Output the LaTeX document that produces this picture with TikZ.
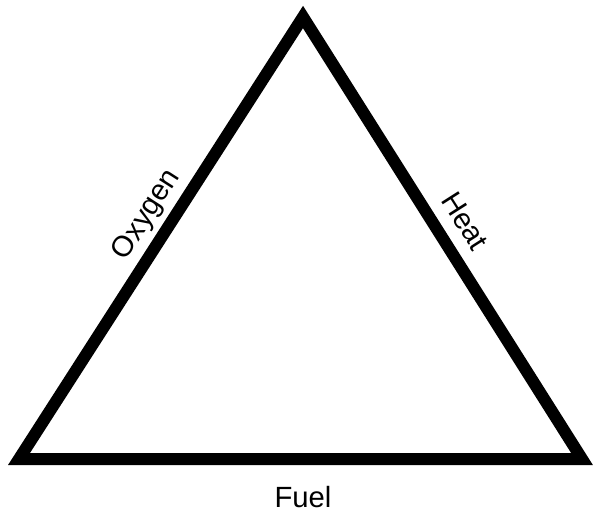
\documentclass[tikz,border=0pt]{standalone}
\usepackage{fontspec}
\setmainfont{Liberation Sans}
\usetikzlibrary{positioning}

\begin{document}
\begin{tikzpicture}[
    x={(0.025cm,0cm)}, y={(0cm,-0.025cm)},
    every node/.style={font=\fontsize{20.8}{25}\selectfont, inner sep=0pt},
    edge/.style={line width=0.3cm, line join=miter, black},
  ]
    \useasboundingbox (0,0) rectangle (596,518);

    % -------- triangle corners --------
    \coordinate (apex)  at (303,17);
    \coordinate (baseL) at (19,459);
    \coordinate (baseR) at (582,459);

    \draw[edge] (apex) -- (baseL) -- (baseR) -- cycle;

    % -------- side labels --------
    \node[rotate=57.3]  (oxygen) at (147,215) {Oxygen};
    \node[rotate=-57.5] (heat)   at (465,221) {Heat};
    \node (fuel) at (303,497) {Fuel};
  \end{tikzpicture}
\end{document}
